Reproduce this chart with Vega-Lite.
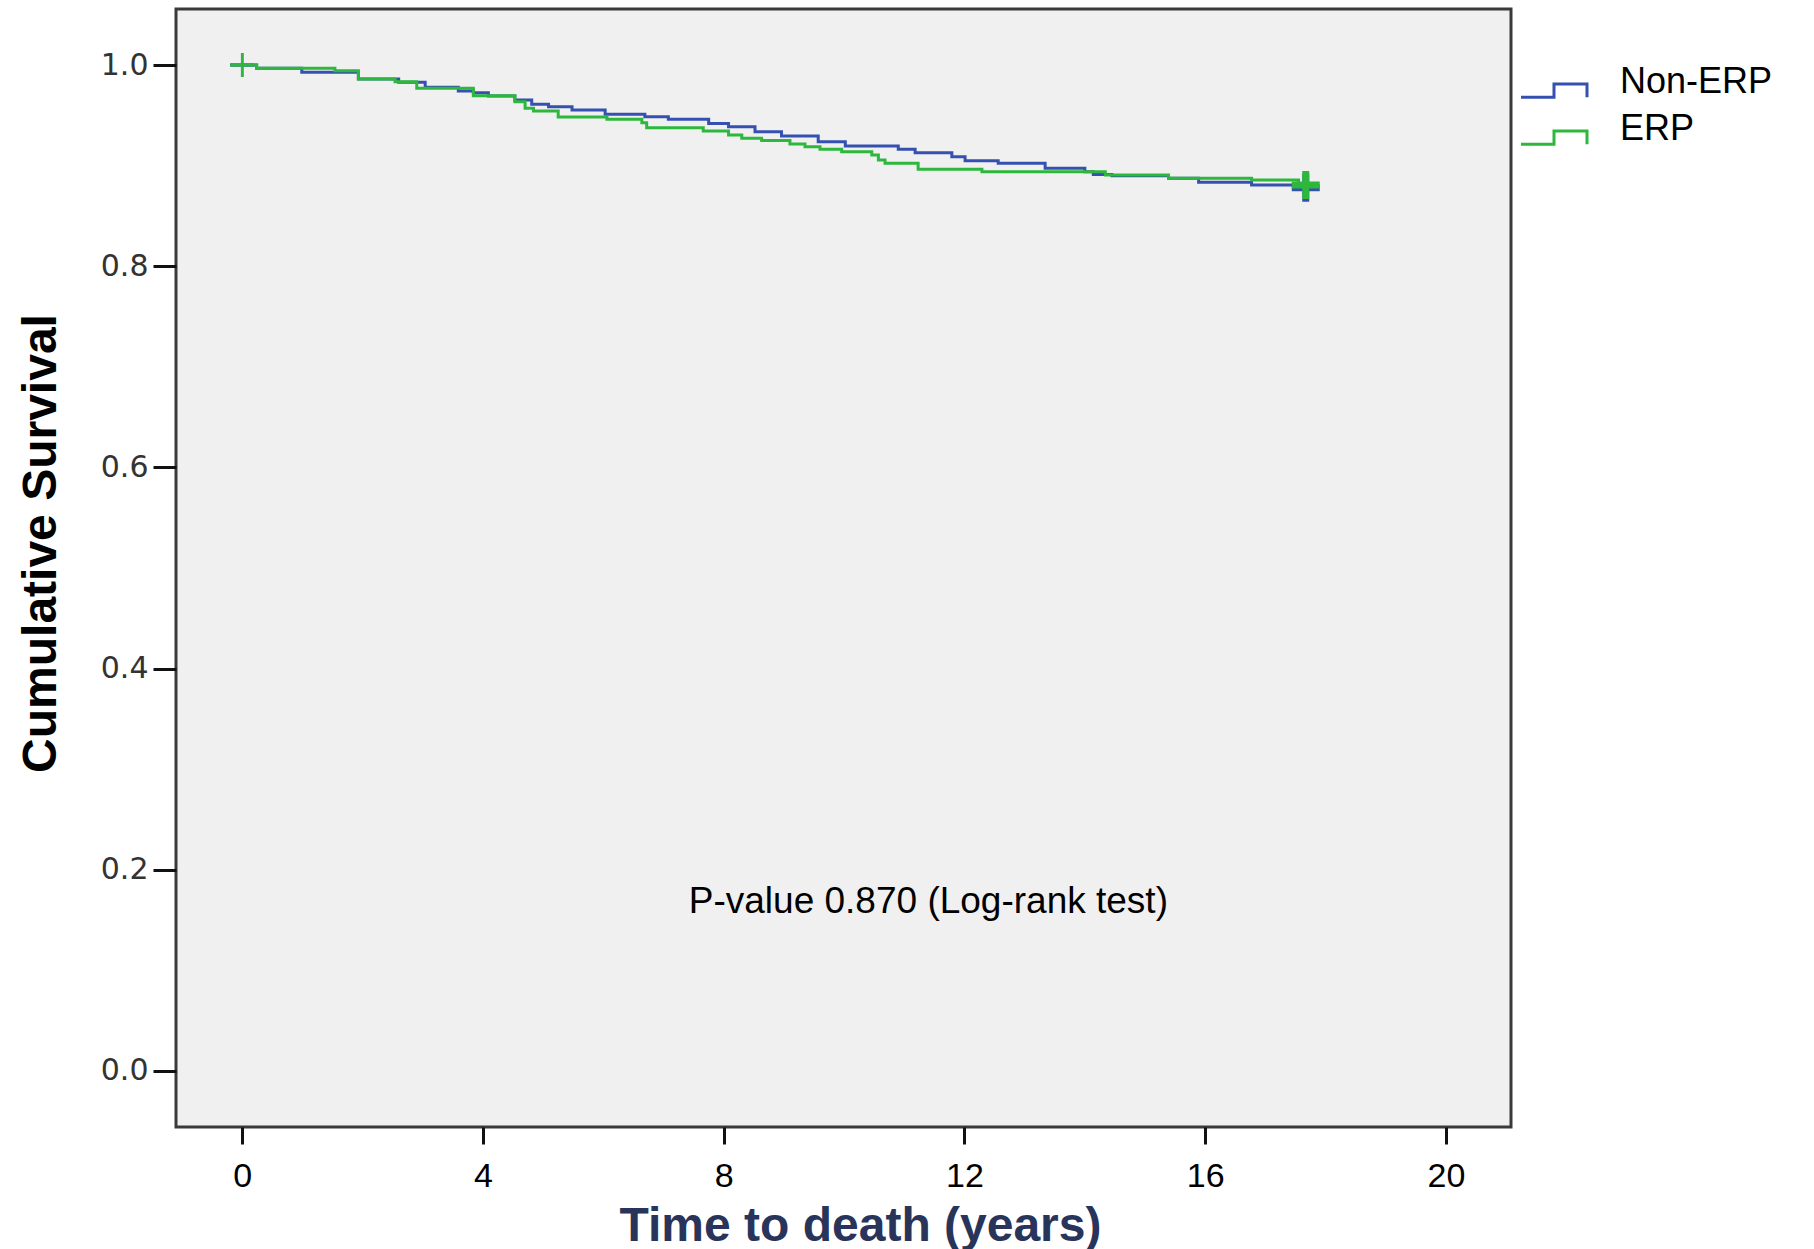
{
  "$schema": "https://vega.github.io/schema/vega-lite/v6.json",
  "width": 1335,
  "height": 1118,
  "autosize": {"type": "none"},
  "padding": {"left": 176, "top": 9, "right": 303, "bottom": 122},
  "background": "white",
  "config": {
    "view": {"fill": "#f0f0f0", "stroke": "#3a3a3a", "strokeWidth": 3},
    "font": "Liberation Sans"
  },
  "datasets": {
    "km": [
      {"group": "Non-ERP", "t": -0.2, "s": 1.0},
      {"group": "Non-ERP", "t": 0.24, "s": 0.9967},
      {"group": "Non-ERP", "t": 0.99, "s": 0.9928},
      {"group": "Non-ERP", "t": 1.93, "s": 0.986},
      {"group": "Non-ERP", "t": 2.6, "s": 0.983},
      {"group": "Non-ERP", "t": 3.04, "s": 0.9778},
      {"group": "Non-ERP", "t": 3.59, "s": 0.9742},
      {"group": "Non-ERP", "t": 3.84, "s": 0.9725},
      {"group": "Non-ERP", "t": 4.09, "s": 0.9692},
      {"group": "Non-ERP", "t": 4.53, "s": 0.9652},
      {"group": "Non-ERP", "t": 4.81, "s": 0.961},
      {"group": "Non-ERP", "t": 5.09, "s": 0.9585},
      {"group": "Non-ERP", "t": 5.48, "s": 0.9553},
      {"group": "Non-ERP", "t": 6.03, "s": 0.951},
      {"group": "Non-ERP", "t": 6.69, "s": 0.9486},
      {"group": "Non-ERP", "t": 7.08, "s": 0.946},
      {"group": "Non-ERP", "t": 7.75, "s": 0.942},
      {"group": "Non-ERP", "t": 8.08, "s": 0.9387},
      {"group": "Non-ERP", "t": 8.52, "s": 0.9337},
      {"group": "Non-ERP", "t": 8.96, "s": 0.9294},
      {"group": "Non-ERP", "t": 9.57, "s": 0.9238},
      {"group": "Non-ERP", "t": 10.02, "s": 0.9195},
      {"group": "Non-ERP", "t": 10.9, "s": 0.9162},
      {"group": "Non-ERP", "t": 11.18, "s": 0.9128},
      {"group": "Non-ERP", "t": 11.79, "s": 0.9089},
      {"group": "Non-ERP", "t": 12.01, "s": 0.9049},
      {"group": "Non-ERP", "t": 12.56, "s": 0.9023},
      {"group": "Non-ERP", "t": 13.34, "s": 0.8973},
      {"group": "Non-ERP", "t": 14.0, "s": 0.894},
      {"group": "Non-ERP", "t": 14.14, "s": 0.8913},
      {"group": "Non-ERP", "t": 14.45, "s": 0.89},
      {"group": "Non-ERP", "t": 15.39, "s": 0.8874},
      {"group": "Non-ERP", "t": 15.89, "s": 0.8834},
      {"group": "Non-ERP", "t": 16.77, "s": 0.8807},
      {"group": "Non-ERP", "t": 17.49, "s": 0.879},
      {"group": "Non-ERP", "t": 17.67, "s": 0.879},
      {"group": "ERP", "t": -0.2, "s": 1.0},
      {"group": "ERP", "t": 0.24, "s": 0.9967},
      {"group": "ERP", "t": 1.54, "s": 0.9943},
      {"group": "ERP", "t": 1.93, "s": 0.9861},
      {"group": "ERP", "t": 2.54, "s": 0.9834},
      {"group": "ERP", "t": 2.9, "s": 0.9768},
      {"group": "ERP", "t": 3.84, "s": 0.9695},
      {"group": "ERP", "t": 4.53, "s": 0.9635},
      {"group": "ERP", "t": 4.7, "s": 0.957},
      {"group": "ERP", "t": 4.84, "s": 0.9543},
      {"group": "ERP", "t": 5.25, "s": 0.9483},
      {"group": "ERP", "t": 6.06, "s": 0.946},
      {"group": "ERP", "t": 6.64, "s": 0.9427},
      {"group": "ERP", "t": 6.72, "s": 0.9377},
      {"group": "ERP", "t": 7.66, "s": 0.9344},
      {"group": "ERP", "t": 8.08, "s": 0.9304},
      {"group": "ERP", "t": 8.3, "s": 0.9271},
      {"group": "ERP", "t": 8.63, "s": 0.925},
      {"group": "ERP", "t": 9.1, "s": 0.9215},
      {"group": "ERP", "t": 9.35, "s": 0.9188},
      {"group": "ERP", "t": 9.6, "s": 0.9162},
      {"group": "ERP", "t": 9.96, "s": 0.9138},
      {"group": "ERP", "t": 10.46, "s": 0.9105},
      {"group": "ERP", "t": 10.57, "s": 0.9056},
      {"group": "ERP", "t": 10.68, "s": 0.9023},
      {"group": "ERP", "t": 11.23, "s": 0.8963},
      {"group": "ERP", "t": 12.29, "s": 0.894},
      {"group": "ERP", "t": 14.34, "s": 0.8907},
      {"group": "ERP", "t": 15.39, "s": 0.8874},
      {"group": "ERP", "t": 16.77, "s": 0.8857},
      {"group": "ERP", "t": 17.55, "s": 0.8807},
      {"group": "ERP", "t": 17.67, "s": 0.8807}
    ],
    "censor": [
      {"group": "Non-ERP", "t": 0, "s": 1.0},
      {"group": "ERP", "t": 0, "s": 1.0},
      {"group": "Non-ERP", "t": 17.67, "s": 0.878},
      {"group": "ERP", "t": 17.67, "s": 0.8807}
    ]
  },
  "layer": [
    {
      "data": {"name": "km"},
      "mark": {"type": "line", "interpolate": "step-after", "strokeWidth": 3},
      "encoding": {
        "x": {
          "field": "t", "type": "quantitative",
          "scale": {"domain": [-1.1, 21.08], "nice": false, "zero": false},
          "axis": {
            "values": [0, 4, 8, 12, 16, 20],
            "format": "d",
            "title": "Time to death (years)",
            "domain": false, "grid": false,
            "tickSize": 17, "tickWidth": 3, "tickColor": "#111",
            "labelFont": "Liberation Sans", "labelFontSize": 34, "labelColor": "#000",
            "labelPadding": 15, "labelFlush": false,
            "titleFont": "Liberation Sans", "titleFontSize": 48, "titleFontWeight": "bold",
            "titleColor": "#28345a", "titleX": 684, "titleY": 113,
            "titleBaseline": "alphabetic", "titleAlign": "center"
          }
        },
        "y": {
          "field": "s", "type": "quantitative",
          "scale": {"domain": [-0.0557, 1.0557], "nice": false, "zero": false},
          "axis": {
            "values": [0, 0.2, 0.4, 0.6, 0.8, 1.0],
            "format": ".1f",
            "title": "Cumulative Survival",
            "domain": false, "grid": false,
            "tickSize": 23, "tickWidth": 3, "tickColor": "#111",
            "labelFont": "DejaVu Sans", "labelFontSize": 30, "labelColor": "#333",
            "labelPadding": 5, "labelFlush": false,
            "titleFont": "Liberation Sans", "titleFontSize": 48, "titleFontWeight": "bold",
            "titleColor": "#000", "titleAngle": 270, "titleX": -121, "titleY": 534,
            "titleBaseline": "alphabetic", "titleAlign": "center"
          }
        },
        "color": {
          "field": "group", "type": "nominal",
          "scale": {"domain": ["Non-ERP", "ERP"], "range": ["#3550b0", "#2db83d"]},
          "sort": ["Non-ERP", "ERP"],
          "legend": {
            "orient": "none", "legendX": 1360, "legendY": 55,
            "title": null, "padding": 0,
            "symbolType": "M-2,0.92H0V0.12H2V0.92",
            "symbolSize": 1089, "symbolStrokeWidth": 3,
            "symbolFillColor": "transparent",
            "labelFont": "Liberation Sans", "labelFontSize": 36, "labelColor": "#000",
            "labelOffset": 48, "rowPadding": 7
          }
        }
      }
    },
    {
      "data": {"name": "censor"},
      "transform": [{"filter": "datum.t < 1"}],
      "mark": {"type": "point", "shape": "M-1,0H1M0,-1V1", "size": 576, "strokeWidth": 2.5, "filled": false, "opacity": 1},
      "encoding": {
        "x": {"field": "t", "type": "quantitative"},
        "y": {"field": "s", "type": "quantitative"},
        "stroke": {
          "field": "group", "type": "nominal",
          "scale": {"domain": ["Non-ERP", "ERP"], "range": ["#3550b0", "#2db83d"]},
          "legend": null
        }
      }
    },
    {
      "data": {"name": "censor"},
      "transform": [{"filter": "datum.t > 1"}],
      "mark": {"type": "point", "shape": "M-1,0H1M0,-1V1", "size": 784, "strokeWidth": 7, "filled": false, "opacity": 1},
      "encoding": {
        "x": {"field": "t", "type": "quantitative"},
        "y": {"field": "s", "type": "quantitative"},
        "stroke": {
          "field": "group", "type": "nominal",
          "scale": {"domain": ["Non-ERP", "ERP"], "range": ["#3550b0", "#2db83d"]},
          "legend": null
        }
      }
    },
    {
      "data": {"values": [{}]},
      "mark": {"type": "text", "text": "P-value 0.870 (Log-rank test)", "font": "Liberation Sans", "fontSize": 37, "align": "center", "baseline": "alphabetic", "color": "#000"},
      "encoding": {
        "x": {"datum": 11.4, "type": "quantitative"},
        "y": {"datum": 0.157, "type": "quantitative"}
      }
    }
  ]
}
